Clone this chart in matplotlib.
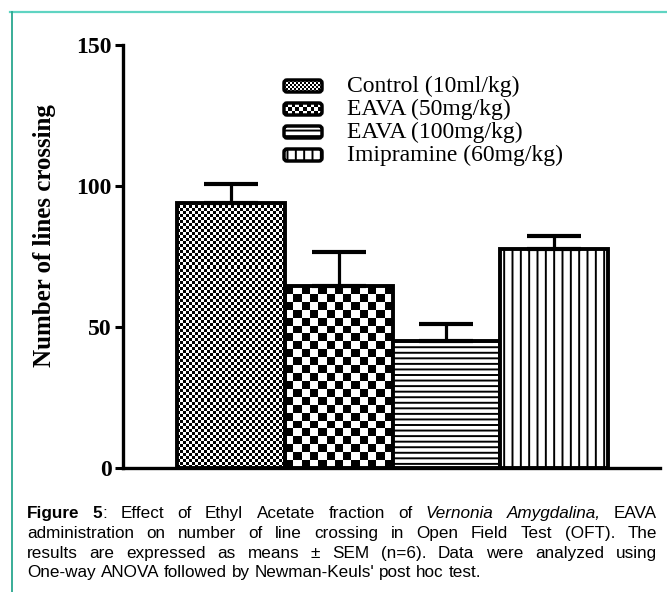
import numpy as np
import matplotlib
matplotlib.use('Agg')
import matplotlib.pyplot as plt
from matplotlib.patches import FancyBboxPatch
from matplotlib.lines import Line2D
from matplotlib.transforms import IdentityTransform

# data
groups = ['Control (10ml/kg)', 'EAVA (50mg/kg)', 'EAVA (100mg/kg)', 'Imipramine (60mg/kg)']
means = [94.0, 64.5, 45.0, 77.6]
sems = [6.6, 12.2, 6.0, 4.7]
yticks = [0, 50, 100, 150]
ylabel = 'Number of lines crossing'

# caption, one list per printed line; each word is a list of (text, style) pieces
caption = [
    [[('Figure', 'bold')], [('5', 'bold'), (':', 'normal')], [('Effect', 'normal')], [('of', 'normal')],
     [('Ethyl', 'normal')], [('Acetate', 'normal')], [('fraction', 'normal')], [('of', 'normal')],
     [('Vernonia', 'italic')], [('Amygdalina,', 'italic')], [('EAVA', 'normal')]],
    [[(w, 'normal')] for w in 'administration on number of line crossing in Open Field Test (OFT). The'.split()],
    [[(w, 'normal')] for w in 'results are expressed as means ± SEM (n=6). Data were analyzed using'.split()],
    [[(w, 'normal')] for w in "One-way ANOVA followed by Newman-Keuls' post hoc test.".split()],
]

W, H = 667, 592
plt.rcParams['hatch.linewidth'] = 1.4
fig = plt.figure(figsize=(W / 100, H / 100), dpi=100)
ax = fig.add_axes([123 / W, 1 - 468 / H, (660 - 123) / W, (468 - 45) / H])
ax.set_xlim(-1.0, 3.98)
ax.set_ylim(0, 150)
ax.set_autoscale_on(False)

PX = IdentityTransform()


def checker(box, cell, transform, clip, z):
    x0, y0, x1, y1 = box
    (a0, b0), (a1, b1) = transform.transform([(x0, y0), (x1, y1)])
    nx = max(1, int(round(abs(a1 - a0) / cell)))
    ny = max(1, int(round(abs(b1 - b0) / cell)))
    img = np.add.outer(np.arange(ny), np.arange(nx)) % 2
    im = ax.imshow(img, cmap='gray', vmin=0, vmax=1, extent=(x0, x1, y0, y1), origin='lower',
                   interpolation='nearest', aspect='auto', transform=transform, zorder=z)
    im.set_clip_path(clip)


x = np.arange(len(groups))
styles = [('check', 3), ('check', 8), ('hatch', '---'), ('hatch', '||')]
for i in range(len(groups)):
    kind, val = styles[i]
    if kind == 'check':
        b = ax.bar(x[i], means[i], width=1.0, facecolor='none', edgecolor='black', linewidth=2.8, zorder=3)[0]
        checker((x[i] - 0.5, 0, x[i] + 0.5, means[i]), val, ax.transData, b, 2)
    else:
        ax.bar(x[i], means[i], width=1.0, facecolor='white', edgecolor='black', linewidth=2.8,
               hatch=val, zorder=3)

ax.errorbar(x, means, yerr=[np.zeros(len(sems)), sems], fmt='none', ecolor='black',
            elinewidth=2.3, capsize=19.5, capthick=3.0, zorder=4)

for s in ['top', 'right']:
    ax.spines[s].set_visible(False)
for s in ['left', 'bottom']:
    ax.spines[s].set_linewidth(2.4)
ax.set_xticks([])
ax.set_yticks(yticks)
ax.set_yticklabels([str(t) for t in yticks], fontfamily='Liberation Serif', fontweight='bold', fontsize=17)
ax.tick_params(axis='y', length=6, width=2.2, pad=2)
fig.text(45 / W, 1 - 236 / H, ylabel, rotation=90, ha='center', va='center',
         fontfamily='Liberation Serif', fontweight='bold', fontsize=18)

# legend drawn by hand in pixel coordinates
rows = [86, 109, 132, 155]
for i in range(len(groups)):
    yc = H - rows[i]
    kind, val = styles[i]
    sw = FancyBboxPatch((284, yc - 6), 38, 12, boxstyle='round,pad=0,rounding_size=3',
                        facecolor='none' if kind == 'check' else 'white', edgecolor='black',
                        linewidth=2.5, hatch=None if kind == 'check' else val,
                        transform=PX, zorder=5)
    fig.add_artist(sw)
    if kind == 'check':
        checker((284, yc - 6, 322, yc + 6), 2 if i == 0 else 4, PX, sw, 4)
    fig.text(347 / W, yc / H, groups[i], ha='left', va='center',
             fontfamily='Liberation Serif', fontsize=17)

# teal frame
fig.add_artist(Line2D([10 / W, 1], [1 - 12 / H, 1 - 12 / H], color='#5fd4c2', linewidth=1.6))
fig.add_artist(Line2D([11.5 / W, 11.5 / W], [0, 1 - 12 / H], color='#2aa78f', linewidth=1.3))

# justified caption
fstyle = {'normal': dict(), 'bold': dict(fontweight='bold'), 'italic': dict(fontstyle='italic')}
renderer = fig.canvas.get_renderer()
left, right = 27, 657
baselines = [518, 538, 558, 577]
fs = 12.3
space = fs * 100 / 72 * 0.278
for li, line in enumerate(caption):
    words = []
    for word in line:
        parts = []
        for txt, st in word:
            t = fig.text(0, 0, txt, fontfamily='Liberation Sans', fontsize=fs, **fstyle[st])
            wpx = t.get_window_extent(renderer).width
            parts.append((t, wpx))
        words.append(parts)
    widths = [sum(p[1] for p in w) for w in words]
    if li < len(caption) - 1:
        gap = (right - left - sum(widths)) / (len(words) - 1)
    else:
        gap = space
    xp = left
    for w, wd in zip(words, widths):
        cx = xp
        for t, wpx in w:
            t.set_position((cx / W, 1 - baselines[li] / H))
            t.set_va('baseline')
            cx += wpx
        xp += wd + gap

fig.savefig('out.png', dpi=100)
